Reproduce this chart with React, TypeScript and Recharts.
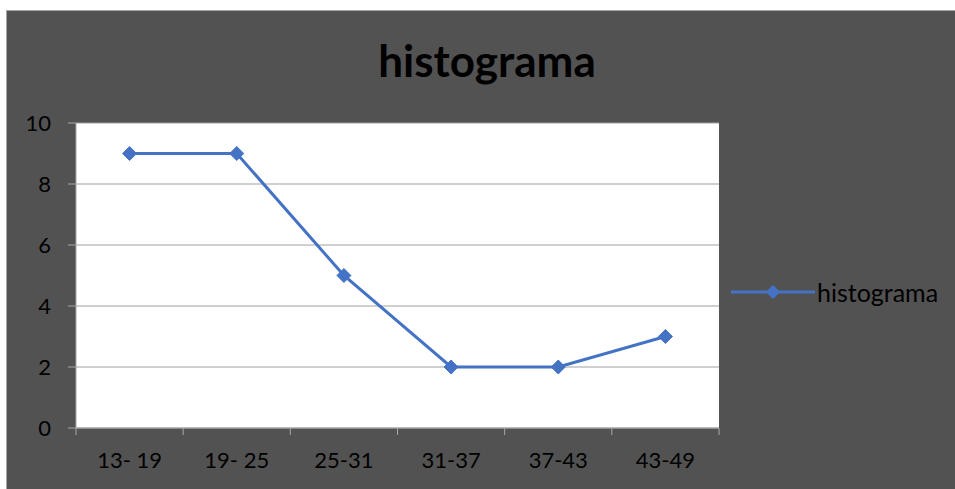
import React from "react";
import { LineChart, Line, XAxis, YAxis, CartesianGrid, Legend } from "recharts";

const categories = ["13- 19", "19- 25", "25-31", "31-37", "37-43", "43-49"];
const values = [9, 9, 5, 2, 2, 3];
const yTicks = [0, 2, 4, 6, 8, 10];
const seriesName = "histograma";
const title = "histograma";

const data = categories.map((c, i) => ({ cat: c, v: values[i] }));

const LINE = "#4472C4";
const AXIS = "#a6a6a6";
const FONT = "Lato, 'Liberation Sans', sans-serif";
const X_TICK_MARGIN = 24;

const Diamond = (props: any) => {
  const { cx, cy } = props;
  if (cx == null || cy == null) return null;
  const r = 7;
  return (
    <polygon
      points={`${cx},${cy - r} ${cx + r},${cy} ${cx},${cy + r} ${cx - r},${cy}`}
      fill={LINE}
      stroke={LINE}
      strokeWidth={1}
    />
  );
};

const XTick = (props: any) => {
  const { x, y, payload, index, visibleTicksCount } = props;
  const half = payload && payload.offset ? payload.offset : 0;
  const ay = y - X_TICK_MARGIN;
  const isLast = index === visibleTicksCount - 1;
  return (
    <g>
      {half > 0 && <line x1={x - half} y1={ay} x2={x - half} y2={ay + 7} stroke={AXIS} strokeWidth={1} />}
      {half > 0 && isLast && <line x1={x + half} y1={ay} x2={x + half} y2={ay + 7} stroke={AXIS} strokeWidth={1} />}
      <text x={x} y={y} dy="0.71em" textAnchor="middle" fill="#000" fontSize={22} fontFamily={FONT}>
        {payload.value}
      </text>
    </g>
  );
};

const LegendContent = () => (
  <div style={{ display: "flex", alignItems: "center", fontFamily: FONT, fontSize: 25, color: "#000" }}>
    <svg width={86} height={16}>
      <line x1={1} y1={8} x2={85} y2={8} stroke={LINE} strokeWidth={3} />
      <polygon points="43,1 50,8 43,15 36,8" fill={LINE} />
    </svg>
    <span style={{ marginLeft: 1 }}>{seriesName}</span>
  </div>
);

export default function App() {
  return (
    <div style={{ position: "absolute", left: 0, top: 0, width: 955, height: 489, background: "#fff", overflow: "hidden" }}>
      <div
        style={{
          position: "absolute",
          left: 6,
          top: 10,
          width: 960,
          height: 490,
          background: "#525252",
          borderLeft: "1px solid #a6a6a6",
          borderTop: "1px solid #a6a6a6",
        }}
      />
      <div
        style={{
          position: "absolute",
          left: 287,
          width: 400,
          top: 33,
          textAlign: "center",
          fontFamily: FONT,
          fontWeight: 700,
          fontSize: 44,
          lineHeight: "54px",
          color: "#000",
        }}
      >
        {title}
      </div>
      <div style={{ position: "absolute", left: 0, top: 0 }}>
        <LineChart width={955} height={489} data={data} margin={{ top: 123, right: 16, bottom: 31, left: 36 }}>
          <CartesianGrid vertical={false} stroke="#a0a0a0" fill="#ffffff" fillOpacity={1} />
          <XAxis
            dataKey="cat"
            scale="band"
            height={30}
            tickLine={false}
            tickSize={0}
            tickMargin={X_TICK_MARGIN}
            axisLine={{ stroke: AXIS }}
            tick={<XTick />}
          />
          <YAxis
            width={40}
            domain={[0, 10]}
            ticks={yTicks}
            tickSize={8}
            tickMargin={17}
            stroke={AXIS}
            tick={{ fill: "#000", fontSize: 22, fontFamily: FONT }}
          />
          <Legend
            layout="vertical"
            verticalAlign="top"
            align="right"
            content={<LegendContent />}
            wrapperStyle={{ position: "absolute", left: 730, top: 277, width: 220 }}
          />
          <Line
            dataKey="v"
            name={seriesName}
            stroke={LINE}
            strokeWidth={3}
            dot={<Diamond />}
            activeDot={false}
            isAnimationActive={false}
          />
        </LineChart>
      </div>
    </div>
  );
}
